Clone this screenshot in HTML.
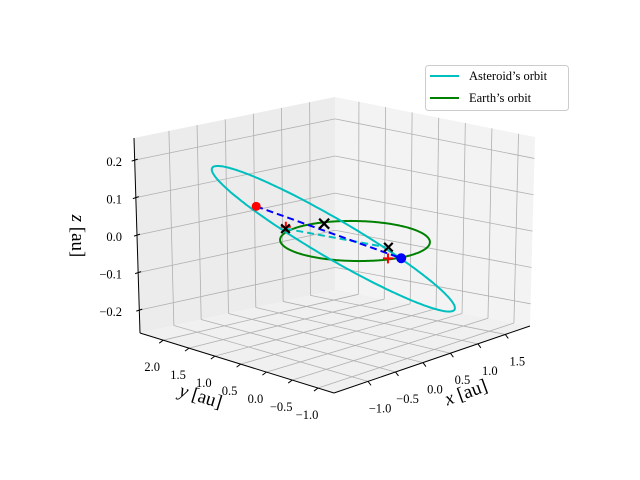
<!DOCTYPE html>
<html><head><meta charset="utf-8"><style>
body{margin:0;background:#fff}
svg{display:block;font-family:"Liberation Serif",serif}
</style></head><body>
<svg id="chart" width="640" height="480" viewBox="0 0 640 480" xmlns="http://www.w3.org/2000/svg">
<g id="panes"></g>
<g id="grid"></g>
<g id="axes"></g>
<g id="data"></g>
<text transform="translate(72,236) rotate(90)" text-anchor="middle" font-size="19"><tspan font-style="italic">z</tspan> [au]</text>
<text transform="translate(199,402) rotate(17)" text-anchor="middle" font-size="19"><tspan font-style="italic">y</tspan> [au]</text>
<text transform="translate(468,398) rotate(-20)" text-anchor="middle" font-size="19"><tspan font-style="italic">x</tspan> [au]</text>
<g>
<rect x="425.5" y="65.5" width="143" height="45" rx="3" fill="#fff" fill-opacity="0.8" stroke="#ccc"/>
<line x1="430" y1="76" x2="459" y2="76" stroke="#00bfbf" stroke-width="2"/>
<text x="469" y="80" font-size="12.5">Asteroid’s orbit</text>
<line x1="430" y1="98" x2="459" y2="98" stroke="#008000" stroke-width="2"/>
<text x="469" y="102" font-size="12.5">Earth’s orbit</text>
</g>
</svg>
<script>
const xTicks=[-1,-0.5,0,0.5,1,1.5];
const yTicks=[-1,-0.5,0,0.5,1,1.5,2];
const zTicks=[-0.2,-0.1,0,0.1,0.2];
const xTickLabels=["−1.0","−0.5","0.0","0.5","1.0","1.5"];
const yTickLabels=["−1.0","−0.5","0.0","0.5","1.0","1.5","2.0"];
const zTickLabels=["−0.2","−0.1","0.0","0.1","0.2"];
const xLim=[-1.62,1.95], yLim=[-1.31,2.45], zLim=[-0.261,0.259];
const earthRadius=[1.0];
const asteroidCenter=[-0.15,0.265,0.0];
const asteroidU=[-0.227,0.775,0.0];
const asteroidV=[-1.05,1.03,0.185];
const redDot=[-0.62,1.28,0.06];
const blueDot=[0.28,-0.61,-0.03];
const blackCrossX=[-0.31,0.26,0.14];
const blackCrossY=[1.04,0.90,-0.51];
const blackCrossZ=[0,0,0];
const blackCrossSize=[6,7,6];
const redPlusX=[-0.24,-0.24];
const redPlusY=[1.11,-0.92];
const redPlusZ=[0,0];
const cyanDashStart=[-0.31,1.04,0];
const cyanDashEnd=[0.113,-0.484,0];

const NS="http://www.w3.org/2000/svg";
function mk(tag,attrs,parent){const e=document.createElementNS(NS,tag);for(const k in attrs)e.setAttribute(k,attrs[k]);parent.appendChild(e);return e;}
function bil(q,u,v){const [a,b,c,d]=q;return [a[0]*(1-u)*(1-v)+b[0]*u*(1-v)+c[0]*u*v+d[0]*(1-u)*v, a[1]*(1-u)*(1-v)+b[1]*u*(1-v)+c[1]*u*v+d[1]*(1-u)*v];}
const fx=x=>(x-xLim[0])/(xLim[1]-xLim[0]);
const fy=y=>(y-yLim[0])/(yLim[1]-yLim[0]);
const fz=z=>(z-zLim[0])/(zLim[1]-zLim[0]);
const F=[334,393],R=[530,326],B=[335,290],L=[140,333],BT=[335,97],LT=[134,138],RT=[535,137];
const floorQ=[F,R,B,L], leftQ=[L,B,BT,LT], rightQ=[R,B,BT,RT];
function proj(x,y,z){return [355+55.5*x-50.3*y, 241-12.6*x-15.6*y-375*z];}

const panes=document.getElementById('panes');
function poly(q,fill,name){const p=mk('polygon',{points:q.map(p=>p.join(',')).join(' '),fill:fill},panes);

}
poly(leftQ,'#ececec','left-pane');poly(rightQ,'#f3f3f3','right-pane');poly(floorQ,'#f0f0f0','floor-pane');

const grid=document.getElementById('grid');
function gl(p1,p2,name){const l=mk('line',{x1:p1[0],y1:p1[1],x2:p2[0],y2:p2[1],stroke:'#b0b0b0','stroke-width':0.8},grid);

}
xTicks.forEach(x=>{const u=fx(x);gl(bil(floorQ,u,0),bil(floorQ,u,1),'grid-x-floor');gl(bil(leftQ,u,0),bil(leftQ,u,1),'grid-x-wall');});
yTicks.forEach(y=>{const v=fy(y);gl(bil(floorQ,0,v),bil(floorQ,1,v),'grid-y-floor');gl(bil(rightQ,v,0),bil(rightQ,v,1),'grid-y-wall');});
zTicks.forEach(z=>{const v=fz(z);gl(bil(leftQ,0,v),bil(leftQ,1,v),'grid-z-left');gl(bil(rightQ,0,v),bil(rightQ,1,v),'grid-z-right');});

const axes=document.getElementById('axes');
function al(p1,p2,name){const l=mk('line',{x1:p1[0],y1:p1[1],x2:p2[0],y2:p2[1],stroke:'#000','stroke-width':1},axes);

}
function tx(p,s,name,anchor){const t=mk('text',{x:p[0],y:p[1],'font-size':12.5,'text-anchor':anchor||'middle'},axes);t.textContent=s;

}
al(F,R,'x-axis-line');al(L,F,'y-axis-line');al(L,LT,'z-axis-line');
xTicks.forEach((x,i)=>{const p=bil(floorQ,fx(x),0);al(p,[p[0]+3,p[1]+4],'x-tick');tx([p[0]+12,p[1]+31],xTickLabels[i],'x-tick-label');});
yTicks.forEach((y,i)=>{const p=bil(floorQ,0,fy(y));al(p,[p[0]-4,p[1]+3],'y-tick');tx([p[0]-11,p[1]+31],yTickLabels[i],'y-tick-label');});
zTicks.forEach((z,i)=>{const p=bil(leftQ,0,fz(z));al([p[0]-3,p[1]+1],[p[0]+3,p[1]-1],'z-tick');tx([122,p[1]+6],zTickLabels[i],'z-tick-label','end');});

const data=document.getElementById('data');
let pts=[];for(let i=0;i<=240;i++){const t=i/240*2*Math.PI;pts.push(proj(earthRadius[0]*Math.cos(t),earthRadius[0]*Math.sin(t),0));}
const earth=mk('polyline',{points:pts.map(p=>p.map(v=>v.toFixed(1)).join(',')).join(' '),fill:'none',stroke:'#008000','stroke-width':2},data);


pts=[];for(let i=0;i<=240;i++){const t=i/240*2*Math.PI,c=Math.cos(t),s=Math.sin(t);
pts.push(proj(asteroidCenter[0]+asteroidU[0]*c+asteroidV[0]*s,asteroidCenter[1]+asteroidU[1]*c+asteroidV[1]*s,asteroidCenter[2]+asteroidU[2]*c+asteroidV[2]*s));}
const ast=mk('polyline',{points:pts.map(p=>p.map(v=>v.toFixed(1)).join(',')).join(' '),fill:'none',stroke:'#00bfbf','stroke-width':2},data);


let a=proj(...cyanDashStart),b=proj(...cyanDashEnd);
const cd=mk('line',{x1:a[0],y1:a[1],x2:b[0],y2:b[1],stroke:'#00bfbf','stroke-width':2,'stroke-dasharray':'7,4'},data);


a=proj(...redDot);b=proj(...blueDot);
const bd=mk('line',{x1:a[0],y1:a[1],x2:b[0],y2:b[1],stroke:'#0000ff','stroke-width':2,'stroke-dasharray':'7,4'},data);


redPlusX.forEach((x,i)=>{const p=proj(x,redPlusY[i],redPlusZ[i]);
const g=mk('path',{d:`M${p[0]-5},${p[1]}h10M${p[0]},${p[1]-5}v10`,stroke:'#ff0000','stroke-width':2},data);

});
blackCrossX.forEach((x,i)=>{const p=proj(x,blackCrossY[i],blackCrossZ[i]);const s=blackCrossSize[i]/1.4;
const g=mk('path',{d:`M${p[0]-s},${p[1]-s}L${p[0]+s},${p[1]+s}M${p[0]-s},${p[1]+s}L${p[0]+s},${p[1]-s}`,stroke:'#000','stroke-width':2.2},data);

});
a=proj(...redDot);
const rd=mk('circle',{cx:a[0],cy:a[1],r:4.5,fill:'#ff0000'},data);


b=proj(...blueDot);
const bl=mk('circle',{cx:b[0],cy:b[1],r:5,fill:'#0000ff'},data);


</script>
</body></html>
